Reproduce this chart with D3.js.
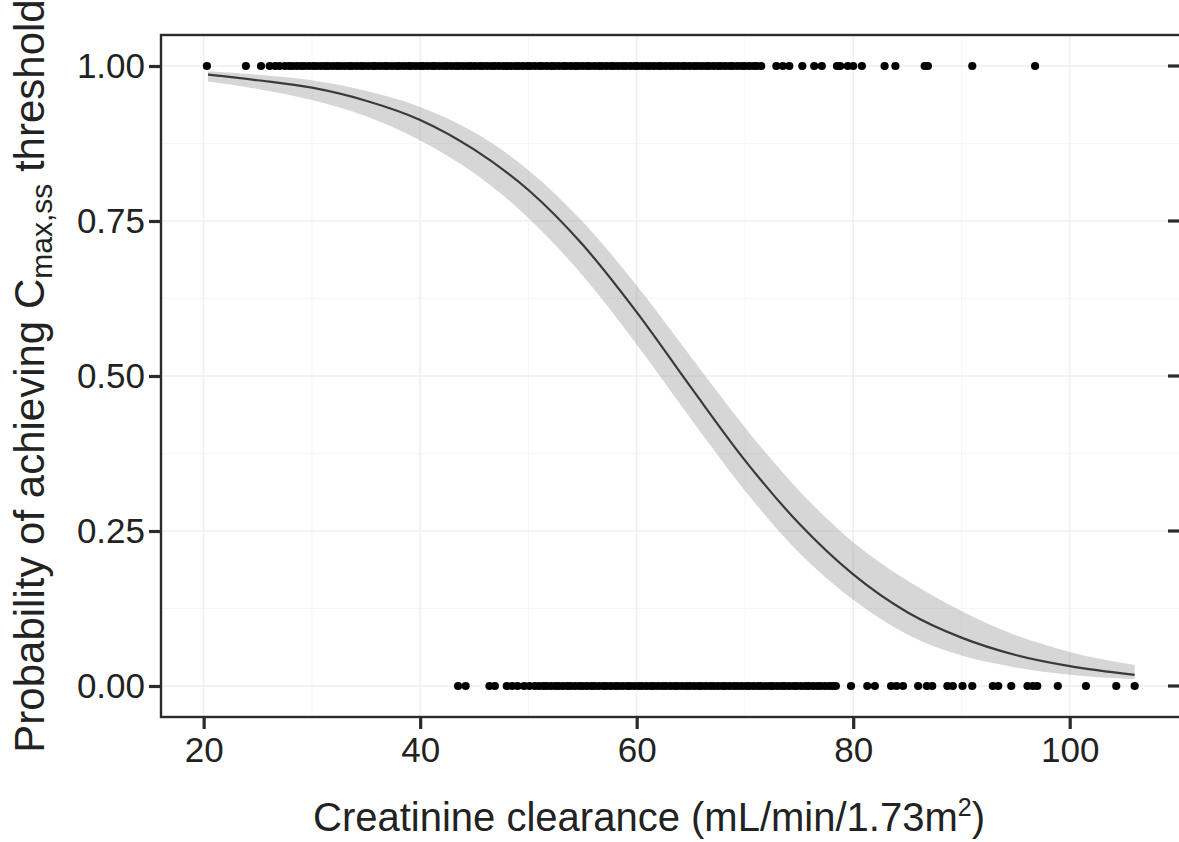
<!DOCTYPE html>
<html>
<head>
<meta charset="utf-8">
<script src="https://cdn.jsdelivr.net/npm/d3@7"></script>
<style>
  html, body { margin: 0; padding: 0; background: #fff; }
  svg { display: block; }
  text { font-family: "Liberation Sans", Arial, Helvetica, sans-serif; }
</style>
</head>
<body>
<svg id="chart" width="1179" height="842"></svg>
<script>
// ---------------- data ----------------
// fitted logistic curve : creatinine clearance, probability, 95% band
const fitX     = [20.4, 25, 30, 35, 40, 45, 50, 55, 60, 65, 70, 75, 80, 85, 90, 95, 100, 106];
const fitP     = [0.986, 0.977, 0.965, 0.944, 0.913, 0.865, 0.800, 0.712, 0.603, 0.482, 0.364, 0.262, 0.180, 0.119, 0.078, 0.050, 0.032, 0.018];
const fitLower = [0.975, 0.963, 0.945, 0.919, 0.880, 0.827, 0.755, 0.662, 0.551, 0.431, 0.315, 0.215, 0.139, 0.083, 0.049, 0.030, 0.018, 0.011];
const fitUpper = [0.9915, 0.986, 0.977, 0.960, 0.934, 0.893, 0.832, 0.749, 0.646, 0.531, 0.417, 0.315, 0.232, 0.170, 0.121, 0.082, 0.055, 0.034];

// observed patients achieving the threshold (y = 1)
const achievedX = [20.3, 23.9, 25.3, 26.1, 26.6, 27.0,
  27.5, 27.9, 28.2, 28.6, 29.0, 29.3, 29.7, 30.1, 30.4, 30.8, 31.2, 31.5, 31.9, 32.3, 32.6, 33.0, 33.4, 33.7,
  34.1, 34.5, 34.8, 35.2, 35.6, 35.9, 36.3, 36.7, 37.0, 37.4, 37.8, 38.1, 38.5, 38.9, 39.2, 39.6, 40.0, 40.3,
  40.7, 41.1, 41.4, 41.8, 42.2, 42.5, 42.9, 43.3, 43.6, 44.0, 44.4, 44.7, 45.1, 45.5, 45.8, 46.2, 46.6, 46.9,
  47.3, 47.7, 48.0, 48.4, 48.8, 49.1, 49.5, 49.9, 50.2, 50.6, 51.0, 51.3, 51.7, 52.1, 52.4, 52.8, 53.2, 53.5,
  53.9, 54.3, 54.6, 55.0, 55.4, 55.7, 56.1, 56.5, 56.8, 57.2, 57.6, 57.9, 58.3, 58.7, 59.0, 59.4, 59.8, 60.1,
  60.5, 60.9, 61.2, 61.6, 62.0, 62.3, 62.7, 63.1, 63.4, 63.8, 64.2, 64.5, 64.9, 65.3, 65.6, 66.0, 66.4, 66.7,
  67.1, 67.5, 67.8, 68.2, 68.6, 68.9, 69.3, 69.7, 70.0, 70.4, 70.8, 71.1, 71.5,
  72.9, 73.5, 74.1, 75.3, 76.4, 77.1, 78.5, 78.8, 79.5, 80.0, 80.8, 82.9, 83.9, 86.6, 86.9, 91.0, 96.8];

// observed patients not achieving the threshold (y = 0)
const notAchievedX = [43.5, 44.2, 46.4, 46.9, 48.0, 48.5, 49.0, 49.6, 50.1, 50.6,
  51.0, 51.4, 51.7, 52.1, 52.5, 52.8, 53.2, 53.6, 53.9, 54.3, 54.7, 55.0, 55.4, 55.8, 56.1, 56.5, 56.9, 57.2,
  57.6, 58.0, 58.3, 58.7, 59.1, 59.4, 59.8, 60.2, 60.5, 60.9, 61.3, 61.6, 62.0, 62.4, 62.7, 63.1, 63.5, 63.8,
  64.2, 64.6, 64.9, 65.3, 65.7, 66.0, 66.4, 66.8, 67.1, 67.5, 67.9, 68.2, 68.6, 69.0, 69.3, 69.7, 70.1, 70.4,
  70.8, 71.2, 71.5, 71.9, 72.3, 72.6, 73.0, 73.4, 73.7, 74.1, 74.5, 74.8, 75.2, 75.6, 75.9, 76.3, 76.7, 77.0,
  77.4, 77.8, 78.1, 78.4,
  79.8, 81.3, 82.0, 83.5, 84.0, 84.6, 86.0, 86.8, 87.3, 88.7, 89.2, 90.1, 91.0, 92.9, 93.4, 94.6,
  96.1, 96.6, 97.0, 98.9, 101.5, 104.3, 106.0];

const xTicks = [20, 40, 60, 80, 100];
const xMinor = [30, 50, 70, 90];
const yTicks = [0, 0.25, 0.5, 0.75, 1];
const yMinor = [0.125, 0.375, 0.625, 0.875];

// ---------------- layout ----------------
const svg = d3.select("#chart");
const panel = { left: 161, right: 1181, top: 35, bottom: 717 };

const x = d3.scaleLinear().domain([16.06, 110.28]).range([panel.left, panel.right]);
const y = d3.scaleLinear().domain([-0.05, 1.05]).range([panel.bottom, panel.top]);

const ink = "#2b2b2b";
const textCol = "#222222";

// grid
const grid = svg.append("g");
grid.selectAll(".xminor").data(xMinor).join("line")
  .attr("x1", d => x(d)).attr("x2", d => x(d))
  .attr("y1", panel.top).attr("y2", panel.bottom)
  .attr("stroke", "#f6f6f6").attr("stroke-width", 1);
grid.selectAll(".yminor").data(yMinor).join("line")
  .attr("y1", d => y(d)).attr("y2", d => y(d))
  .attr("x1", panel.left).attr("x2", panel.right)
  .attr("stroke", "#f6f6f6").attr("stroke-width", 1);
grid.selectAll(".xmajor").data(xTicks).join("line")
  .attr("x1", d => x(d)).attr("x2", d => x(d))
  .attr("y1", panel.top).attr("y2", panel.bottom)
  .attr("stroke", "#efefef").attr("stroke-width", 1.5);
grid.selectAll(".ymajor").data(yTicks).join("line")
  .attr("y1", d => y(d)).attr("y2", d => y(d))
  .attr("x1", panel.left).attr("x2", panel.right)
  .attr("stroke", "#efefef").attr("stroke-width", 1.5);

// confidence band
const fitData = fitX.map((d, i) => ({ x: d, p: fitP[i], lo: fitLower[i], hi: fitUpper[i] }));
svg.append("path")
  .datum(fitData)
  .attr("fill", "#999999")
  .attr("fill-opacity", 0.4)
  .attr("d", d3.area().curve(d3.curveMonotoneX)
    .x(d => x(d.x)).y0(d => y(d.lo)).y1(d => y(d.hi)));

// fitted line
svg.append("path")
  .datum(fitData)
  .attr("fill", "none")
  .attr("stroke", "#3a3a3a")
  .attr("stroke-width", 2.2)
  .attr("d", d3.line().curve(d3.curveMonotoneX).x(d => x(d.x)).y(d => y(d.p)));

// points
const pts = achievedX.map(v => ({ x: v, y: 1 })).concat(notAchievedX.map(v => ({ x: v, y: 0 })));
svg.append("g").selectAll("circle").data(pts).join("circle")
  .attr("cx", d => x(d.x)).attr("cy", d => y(d.y))
  .attr("r", 4.1).attr("fill", "#000");

// panel border (top, left, bottom visible)
svg.append("rect")
  .attr("x", panel.left).attr("y", panel.top)
  .attr("width", panel.right - panel.left).attr("height", panel.bottom - panel.top)
  .attr("fill", "none").attr("stroke", ink).attr("stroke-width", 2.4);

// axes
const xAxis = svg.append("g")
  .attr("transform", `translate(0,${panel.bottom})`)
  .call(d3.axisBottom(x).tickValues(xTicks).tickFormat(d3.format("d")).tickSizeOuter(0).tickSize(12).tickPadding(8));
const yAxis = svg.append("g")
  .attr("transform", `translate(${panel.left},0)`)
  .call(d3.axisLeft(y).tickValues(yTicks).tickFormat(d3.format(".2f")).tickSizeOuter(0).tickSize(12).tickPadding(4));
[xAxis, yAxis].forEach(a => {
  a.select(".domain").remove();
  a.selectAll(".tick line").attr("stroke", ink).attr("stroke-width", 3.2);
  a.selectAll(".tick text").attr("fill", textCol).style("font-size", "35px")
    .style("font-family", "'Liberation Sans', Arial, sans-serif");
});

// right-side tick marks
svg.append("g").selectAll("line").data(yTicks).join("line")
  .attr("x1", 1168).attr("x2", 1179)
  .attr("y1", d => y(d)).attr("y2", d => y(d))
  .attr("stroke", ink).attr("stroke-width", 3.2);

// axis titles
const xt = svg.append("text")
  .attr("x", 649).attr("y", 831)
  .attr("text-anchor", "middle")
  .attr("fill", textCol)
  .style("font-size", "40px");
xt.append("tspan").text("Creatinine clearance (mL/min/1.73m");
xt.append("tspan").text("2").style("font-size", "25px").attr("dy", -15);
xt.append("tspan").text(")").attr("dy", 15);

const yt = svg.append("text")
  .attr("transform", "translate(44,376) rotate(-90)")
  .attr("text-anchor", "middle")
  .attr("fill", textCol)
  .style("font-size", "42px");
yt.append("tspan").text("Probability of achieving C");
yt.append("tspan").text("max,ss").style("font-size", "30px").attr("dy", 8);
yt.append("tspan").text(" threshold").attr("dy", -8);
</script>
</body>
</html>
